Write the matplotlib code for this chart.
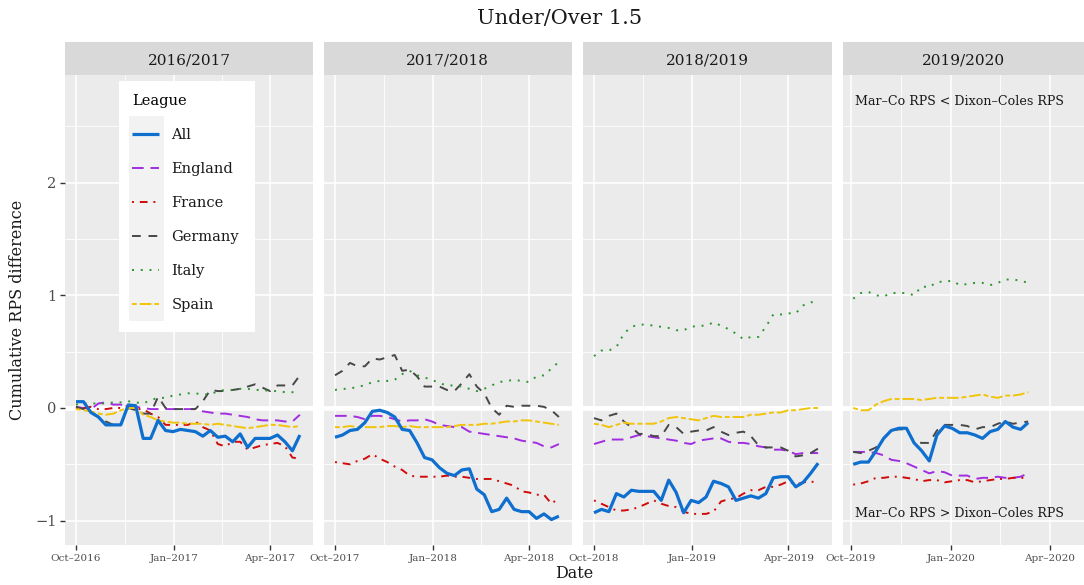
import numpy as np
import pandas as pd
import matplotlib
matplotlib.use('Agg')
import matplotlib.pyplot as plt
import matplotlib.dates as mdates
from matplotlib.patches import Rectangle

plt.rcParams['font.family'] = ['DejaVu Serif']

# ---------------- data ----------------
seasons = ['2016/2017', '2017/2018', '2018/2019', '2019/2020']
season_first_match = ['2016-10-01', '2017-10-01', '2018-10-01', '2019-10-03']
season_year = [2016, 2017, 2018, 2019]
leagues = ['All', 'England', 'France', 'Germany', 'Italy', 'Spain']

# weekly cumulative RPS difference, season 2016/2017
all_1617 = [0.056, 0.056, -0.04, -0.08, -0.15, -0.15, -0.15, 0.027, 0.02, -0.27, -0.27, -0.11, -0.2, -0.21, -0.19, -0.2,
            -0.21, -0.25, -0.2, -0.26, -0.25, -0.3, -0.23, -0.35, -0.27, -0.27, -0.27, -0.24, -0.3, -0.38, -0.24]
eng_1617 = [0.01, 0.0, -0.01, 0.04, 0.05, 0.03, 0.03, 0.01, 0.01, 0.0, -0.01, -0.01, -0.01, -0.01, -0.01, -0.01,
            -0.01, -0.03, -0.04, -0.05, -0.05, -0.06, -0.07, -0.08, -0.1, -0.11, -0.11, -0.11, -0.12, -0.12, -0.06]
fra_1617 = [-0.01, 0.0, 0.01, -0.01, -0.01, 0.0, 0.0, 0.02, -0.01, -0.01, -0.05, -0.08, -0.15, -0.15, -0.15, -0.15,
            -0.12, -0.17, -0.2, -0.32, -0.34, -0.3, -0.3, -0.37, -0.35, -0.33, -0.32, -0.31, -0.34, -0.44, -0.45]
ger_1617 = [0.01, -0.01, -0.03, -0.08, -0.12, -0.15, -0.15, 0.0, -0.02, -0.05, -0.05, 0.1, 0.0, -0.01, -0.01, -0.01,
            -0.01, 0.06, 0.16, 0.15, 0.15, 0.16, 0.17, 0.19, 0.21, 0.18, 0.15, 0.2, 0.2, 0.2, 0.29]
ita_1617 = [0.03, 0.04, 0.04, 0.04, 0.04, 0.05, 0.05, 0.06, 0.05, 0.04, 0.07, 0.09, 0.09, 0.11, 0.12, 0.13,
            0.13, 0.12, 0.12, 0.15, 0.16, 0.16, 0.17, 0.17, 0.16, 0.16, 0.15, 0.15, 0.14, 0.14, 0.14]
spa_1617 = [-0.01, -0.02, -0.03, -0.05, -0.06, -0.05, -0.02, 0.0, 0.0, -0.06, -0.08, -0.11, -0.12, -0.13, -0.13, -0.14,
            -0.14, -0.14, -0.15, -0.14, -0.15, -0.16, -0.17, -0.18, -0.17, -0.16, -0.15, -0.15, -0.16, -0.17, -0.16]

# season 2017/2018
all_1718 = [-0.26, -0.24, -0.2, -0.19, -0.13, -0.03, -0.02, -0.04, -0.08, -0.19, -0.2, -0.31, -0.44, -0.46, -0.53, -0.58,
            -0.6, -0.55, -0.54, -0.72, -0.77, -0.92, -0.9, -0.8, -0.9, -0.92, -0.92, -0.98, -0.94, -0.99, -0.96]
eng_1718 = [-0.07, -0.07, -0.07, -0.08, -0.1, -0.07, -0.07, -0.08, -0.1, -0.12, -0.11, -0.11, -0.1, -0.12, -0.15, -0.16,
            -0.17, -0.17, -0.21, -0.22, -0.23, -0.24, -0.25, -0.26, -0.27, -0.29, -0.3, -0.31, -0.34, -0.35, -0.32]
fra_1718 = [-0.48, -0.49, -0.5, -0.47, -0.45, -0.41, -0.45, -0.48, -0.52, -0.55, -0.6, -0.61, -0.61, -0.61, -0.61, -0.6,
            -0.61, -0.61, -0.62, -0.63, -0.63, -0.63, -0.65, -0.67, -0.69, -0.74, -0.75, -0.77, -0.77, -0.85, -0.8]
ger_1718 = [0.29, 0.33, 0.4, 0.37, 0.37, 0.44, 0.43, 0.45, 0.47, 0.33, 0.34, 0.28, 0.19, 0.19, 0.19, 0.16,
            0.15, 0.22, 0.3, 0.19, 0.13, 0.0, -0.06, 0.02, 0.01, 0.02, 0.02, 0.02, 0.01, -0.02, -0.08]
ita_1718 = [0.16, 0.17, 0.17, 0.19, 0.2, 0.23, 0.24, 0.24, 0.25, 0.3, 0.33, 0.29, 0.27, 0.25, 0.22, 0.2,
            0.2, 0.19, 0.17, 0.15, 0.17, 0.2, 0.23, 0.24, 0.25, 0.24, 0.23, 0.28, 0.29, 0.35, 0.41]
spa_1718 = [-0.17, -0.17, -0.16, -0.17, -0.17, -0.17, -0.17, -0.16, -0.16, -0.17, -0.16, -0.17, -0.17, -0.17, -0.17, -0.17,
            -0.16, -0.15, -0.15, -0.15, -0.14, -0.14, -0.13, -0.12, -0.12, -0.11, -0.11, -0.12, -0.13, -0.14, -0.15]

# season 2018/2019
all_1819 = [-0.93, -0.9, -0.92, -0.76, -0.79, -0.73, -0.74, -0.74, -0.74, -0.82, -0.64, -0.75, -0.93, -0.82, -0.84, -0.79,
            -0.65, -0.67, -0.7, -0.82, -0.8, -0.78, -0.8, -0.76, -0.62, -0.61, -0.61, -0.7, -0.66, -0.58, -0.49]
eng_1819 = [-0.32, -0.3, -0.28, -0.28, -0.28, -0.26, -0.24, -0.25, -0.26, -0.27, -0.28, -0.29, -0.31, -0.32, -0.29, -0.28,
            -0.27, -0.27, -0.3, -0.31, -0.31, -0.32, -0.34, -0.35, -0.37, -0.37, -0.38, -0.41, -0.4, -0.4, -0.4]
fra_1819 = [-0.82, -0.85, -0.88, -0.91, -0.91, -0.9, -0.88, -0.85, -0.82, -0.85, -0.87, -0.88, -0.92, -0.94, -0.94, -0.94,
            -0.92, -0.83, -0.81, -0.8, -0.76, -0.73, -0.73, -0.7, -0.7, -0.68, -0.65, -0.68, -0.66, -0.65, -0.67]
ger_1819 = [-0.09, -0.11, -0.07, -0.05, -0.12, -0.17, -0.23, -0.23, -0.25, -0.25, -0.15, -0.17, -0.23, -0.21, -0.2, -0.2,
            -0.17, -0.21, -0.24, -0.22, -0.21, -0.25, -0.33, -0.35, -0.35, -0.35, -0.38, -0.43, -0.42, -0.4, -0.36]
ita_1819 = [0.46, 0.51, 0.51, 0.54, 0.66, 0.72, 0.74, 0.74, 0.73, 0.72, 0.71, 0.69, 0.69, 0.72, 0.73, 0.73,
            0.76, 0.73, 0.7, 0.66, 0.61, 0.63, 0.63, 0.72, 0.83, 0.83, 0.84, 0.84, 0.91, 0.94, 0.93]
spa_1819 = [-0.14, -0.15, -0.17, -0.15, -0.13, -0.14, -0.14, -0.14, -0.14, -0.12, -0.09, -0.08, -0.09, -0.1, -0.11, -0.09,
            -0.07, -0.08, -0.08, -0.08, -0.08, -0.06, -0.06, -0.05, -0.04, -0.04, -0.02, -0.02, -0.01, 0.0, 0.0]

# season 2019/2020 (interrupted in March)
all_1920 = [-0.5, -0.48, -0.48, -0.38, -0.27, -0.2, -0.18, -0.18, -0.31, -0.38, -0.47, -0.24,
            -0.16, -0.18, -0.22, -0.22, -0.24, -0.27, -0.21, -0.19, -0.12, -0.17, -0.19, -0.13]
eng_1920 = [-0.39, -0.39, -0.39, -0.4, -0.42, -0.46, -0.47, -0.49, -0.52, -0.55, -0.58, -0.56,
            -0.57, -0.6, -0.6, -0.6, -0.63, -0.62, -0.62, -0.61, -0.62, -0.62, -0.61, -0.58]
fra_1920 = [-0.68, -0.67, -0.65, -0.62, -0.62, -0.61, -0.61, -0.62, -0.63, -0.65, -0.64, -0.64,
            -0.66, -0.65, -0.64, -0.64, -0.66, -0.65, -0.64, -0.63, -0.63, -0.62, -0.62, -0.62]
ger_1920 = [-0.39, -0.4, -0.38, -0.35, -0.27, -0.2, -0.19, -0.19, -0.3, -0.31, -0.31, -0.2,
            -0.15, -0.15, -0.15, -0.16, -0.19, -0.17, -0.17, -0.14, -0.12, -0.14, -0.13, -0.12]
ita_1920 = [0.97, 1.02, 1.03, 1.0, 0.99, 1.02, 1.02, 1.02, 1.0, 1.08, 1.07, 1.12,
            1.12, 1.13, 1.09, 1.1, 1.11, 1.11, 1.09, 1.11, 1.14, 1.14, 1.13, 1.11]
spa_1920 = [0.0, -0.02, -0.02, 0.03, 0.06, 0.08, 0.08, 0.08, 0.08, 0.07, 0.08, 0.09,
            0.09, 0.09, 0.09, 0.1, 0.11, 0.12, 0.1, 0.09, 0.11, 0.11, 0.12, 0.14]

season_data = [
    [all_1617, eng_1617, fra_1617, ger_1617, ita_1617, spa_1617],
    [all_1718, eng_1718, fra_1718, ger_1718, ita_1718, spa_1718],
    [all_1819, eng_1819, fra_1819, ger_1819, ita_1819, spa_1819],
    [all_1920, eng_1920, fra_1920, ger_1920, ita_1920, spa_1920],
]

y_ticks = [-1, 0, 1, 2]
y_ticklabels = ['\u22121', '0', '1', '2']

# ---------------- styles ----------------
colors = {'All': '#0f6fcf', 'England': '#a02ee0', 'France': '#d10a0a',
          'Germany': '#474747', 'Italy': '#2a952a', 'Spain': '#f1c40a'}
styles = {'All': '-', 'England': (0, (6, 3.5)), 'France': (0, (1, 3, 4, 3)),
          'Germany': (0, (4.5, 4)), 'Italy': (0, (1, 3.5)), 'Spain': (0, (2.5, 1.5, 6, 1.5))}
widths = {'All': 2.3, 'England': 1.4, 'France': 1.4, 'Germany': 1.4, 'Italy': 1.4, 'Spain': 1.4}

W, H = 1084, 585
fig = plt.figure(figsize=(W / 100, H / 100), dpi=100)
fig.patch.set_facecolor('white')

panel_lr = [(65, 313), (323.5, 572), (583, 832), (843, 1083.5)]
ptop, pbot = 75, 545
strip_top = 42
xlim_days = [(-10.3, 222.3), (-10.8, 222.3), (-10.3, 223.0), (-7.4, 213.9)]
ylim = (-1.216, 2.955)

grid_col = 'white'
axes = []
for i, (l, r) in enumerate(panel_lr):
    ax = fig.add_axes([l / W, 1 - pbot / H, (r - l) / W, (pbot - ptop) / H])
    ax.set_facecolor('#ebebeb')
    for s in ax.spines.values():
        s.set_visible(False)
    yr = season_year[i]
    oct1 = pd.Timestamp(f'{yr}-10-01')
    ax.set_xlim(mdates.date2num(oct1 + pd.Timedelta(days=xlim_days[i][0])),
                mdates.date2num(oct1 + pd.Timedelta(days=xlim_days[i][1])))
    ax.set_ylim(*ylim)
    major = [pd.Timestamp(f'{yr}-10-01'), pd.Timestamp(f'{yr+1}-01-01'), pd.Timestamp(f'{yr+1}-04-01')]
    minor = [major[0] + (major[1] - major[0]) / 2, major[1] + (major[2] - major[1]) / 2]
    ax.set_xticks([mdates.date2num(d) for d in major])
    ax.set_xticklabels([d.strftime('%b') + '\u2013' + d.strftime('%Y') for d in major])
    # grid lines
    for d in minor:
        ax.axvline(mdates.date2num(d), color=grid_col, lw=0.6, zorder=0.5)
    for d in major:
        ax.axvline(mdates.date2num(d), color=grid_col, lw=1.15, zorder=0.5)
    for yv in [-0.5, 0.5, 1.5, 2.5]:
        ax.axhline(yv, color=grid_col, lw=0.6, zorder=0.5)
    for yv in [-1, 1, 2]:
        ax.axhline(yv, color=grid_col, lw=1.15, zorder=0.5)
    ax.axhline(0, color=grid_col, lw=3.4, zorder=0.6)

    ax.tick_params(axis='x', length=3.5, width=1.0, color='#333333', labelsize=7.5,
                   labelcolor='#4d4d4d', pad=3)
    if i == 0:
        ax.set_yticks(y_ticks)
        ax.set_yticklabels(y_ticklabels)
        ax.tick_params(axis='y', length=3.5, width=1.0, color='#333333', labelsize=10.5,
                       labelcolor='#4d4d4d', pad=2.5)
    else:
        ax.set_yticks([])

    dates = pd.date_range(season_first_match[i], periods=len(season_data[i][0]), freq='7D')
    xnum = mdates.date2num(dates)
    for lg, vals in zip(leagues, season_data[i]):
        ax.plot(xnum, vals, color=colors[lg], linestyle=styles[lg], lw=widths[lg],
                zorder=3 if lg == 'All' else 2, label=lg, solid_capstyle='butt',
                dash_capstyle='butt')

    # strip
    sax = fig.add_axes([l / W, 1 - ptop / H, (r - l) / W, (ptop - strip_top) / H])
    sax.set_facecolor('#d9d9d9')
    sax.set_xticks([]); sax.set_yticks([])
    for s in sax.spines.values():
        s.set_visible(False)
    sax.text(0.5, 0.45, seasons[i], ha='center', va='center', fontsize=11, color='#1a1a1a',
             transform=sax.transAxes)
    axes.append(ax)

# annotations in last panel
axes[3].text(0.05, 0.943, 'Mar\u2013Co RPS < Dixon\u2013Coles RPS', transform=axes[3].transAxes,
             ha='left', va='center', fontsize=9.1, color='#1a1a1a')
axes[3].text(0.05, 0.066, 'Mar\u2013Co RPS > Dixon\u2013Coles RPS', transform=axes[3].transAxes,
             ha='left', va='center', fontsize=9.1, color='#1a1a1a')

# legend in first panel
ax0 = axes[0]
pw = panel_lr[0][1] - panel_lr[0][0]
ph = pbot - ptop
def ax_frac(px, py):
    return (px - panel_lr[0][0]) / pw, (pbot - py) / ph
x0, y0 = ax_frac(119, 332)
x1, y1 = ax_frac(255, 81)
ax0.add_patch(Rectangle((x0, y0), x1 - x0, y1 - y0, transform=ax0.transAxes,
                        facecolor='white', edgecolor='none', zorder=4))
gx0, gy0 = ax_frac(129, 321)
gx1, gy1 = ax_frac(164, 116)
ax0.add_patch(Rectangle((gx0, gy0), gx1 - gx0, gy1 - gy0, transform=ax0.transAxes,
                        facecolor='#f2f2f2', edgecolor='none', zorder=4.5))
lx, ly = ax_frac(122, 84)
leg = ax0.legend(loc='upper left', bbox_to_anchor=(lx, ly), frameon=False, fontsize=10.5,
                 title='League', title_fontsize=10.5, alignment='left',
                 handlelength=1.85, handletextpad=0.85, labelspacing=1.37, borderpad=0.2)
leg.set_zorder(5)
for t in leg.get_texts():
    t.set_color('#1a1a1a')

fig.text(560 / W, 1 - 19 / H, 'Under/Over 1.5', ha='center', va='center', fontsize=15, color='#1a1a1a')
fig.text(574 / W, 1 - 573 / H, 'Date', ha='center', va='center', fontsize=11.5, color='#1a1a1a')
fig.text(18 / W, 1 - 310 / H, 'Cumulative RPS difference', ha='center', va='center', rotation=90,
         fontsize=11.5, color='#1a1a1a')

fig.savefig('out.png', dpi=100)
